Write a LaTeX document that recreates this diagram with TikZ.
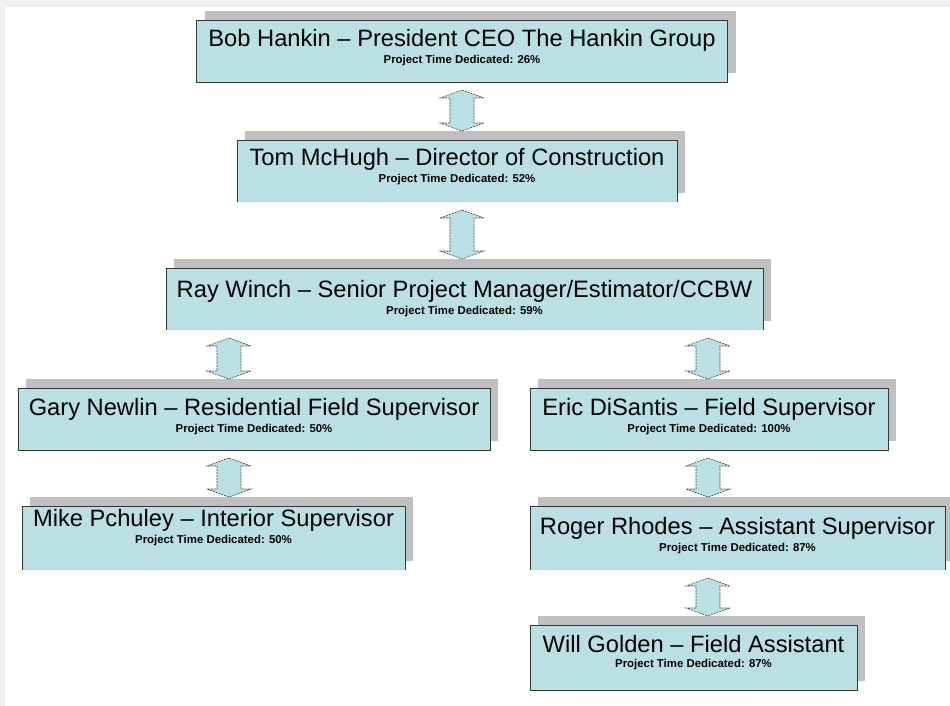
\documentclass[tikz,border=0pt]{standalone}
\usepackage{fontspec}
\setmainfont{Liberation Sans}
\usetikzlibrary{shapes,arrows,calc,shadows}
\usepackage{color}
\definecolor{boxfill}{RGB}{187,224,227}
\definecolor{shade}{RGB}{192,192,192}
\definecolor{rim}{RGB}{55,55,55}
\newcommand{\who}[3][8pt]{{\fontsize{23.7}{25}\selectfont #2}\\[3pt]{\fontsize{11.4}{12}\selectfont\bfseries Project Time Dedicated: #3\rule[-#1]{0pt}{0pt}}}

\begin{document}
\begin{tikzpicture}[x=1pt, y=-1pt, outer sep=0pt,
  card/.style={rectangle, fill=boxfill, inner sep=0pt, align=center,
    drop shadow={shadow xshift=8pt, shadow yshift=9pt, fill=shade, opacity=1}},
  rim/.style={draw=rim, line width=0.8pt},
  twoway/.style={fill=boxfill, draw=black!70, line width=0.6pt, dash pattern=on 2pt off 1pt,
    to path={let \p1=(\tikztostart), \p2=(\tikztotarget) in
      (\x1,\y1-8pt) -- (\x1+22pt,\y1-16pt) -- (\x1+12pt,\y1-16pt) -- (\x1+12pt,\y2+17pt)
      -- (\x1+22pt,\y2+17pt) -- (\x1,\y2+9pt) -- (\x1-22pt,\y2+17pt) -- (\x1-12pt,\y2+17pt)
      -- (\x1-12pt,\y1-16pt) -- (\x1-22pt,\y1-16pt) -- cycle}}]

\useasboundingbox (0,0) rectangle (950,706);
\fill[black!6] (0,0) rectangle (950,7);
\fill[black!6] (0,0) rectangle (5,706);

\node[card, minimum width=531pt, minimum height=62pt] at (462, 51) (bob) {\who[9pt]{Bob Hankin – President CEO The Hankin Group}{26\%}};
\node[card, minimum width=440pt, minimum height=62pt] at (457, 171) (tom) {\who[11pt]{Tom McHugh – Director of Construction}{52\%}};
\node[card, minimum width=597pt, minimum height=62pt] at (464.5, 299) (ray) {\who[0pt]{Ray Winch – Senior Project Manager/Estimator/CCBW}{59\%}};
\node[card, minimum width=472pt, minimum height=62pt] at (254, 419) (gary) {\who{Gary Newlin – Residential Field Supervisor}{50\%}};
\node[card, minimum width=358pt, minimum height=62pt] at (709, 419) (eric) {\who{Eric DiSantis – Field Supervisor}{100\%}};
\node[card, minimum width=383pt, minimum height=64pt] at (213.5, 538) (mike) {\who[23pt]{Mike Pchuley – Interior Supervisor}{50\%}};
\node[card, minimum width=415pt, minimum height=64pt] at (737.5, 538) (roger) {\who{Roger Rhodes – Assistant Supervisor}{87\%}};
\node[card, minimum width=327pt, minimum height=65pt] at (693.5, 657.5) (will) {\who[12pt]{Will Golden – Field Assistant}{87\%}};

\foreach \n in {bob,gary,eric,will}
  \draw[rim] (\n.south west) rectangle (\n.north east);
\foreach \n in {tom,ray,mike,roger}
  \draw[rim] (\n.south west) |- (\n.north east) -- (\n.south east);

\coordinate (colM) at (462, 0);
\coordinate (colL) at (229, 0);
\coordinate (colR) at (708, 0);
    \draw[twoway] (bob.south -| colM) to (tom.north -| colM);
    \draw[twoway] (tom.south -| colM) to (ray.north -| colM);
    \draw[twoway] (ray.south -| colL) to (gary.north -| colL);
    \draw[twoway] (ray.south -| colR) to (eric.north -| colR);
    \draw[twoway] (gary.south -| colL) to (mike.north -| colL);
    \draw[twoway] (eric.south -| colR) to (roger.north -| colR);
    \draw[twoway] (roger.south -| colR) to (will.north -| colR);
\end{tikzpicture}
\end{document}
